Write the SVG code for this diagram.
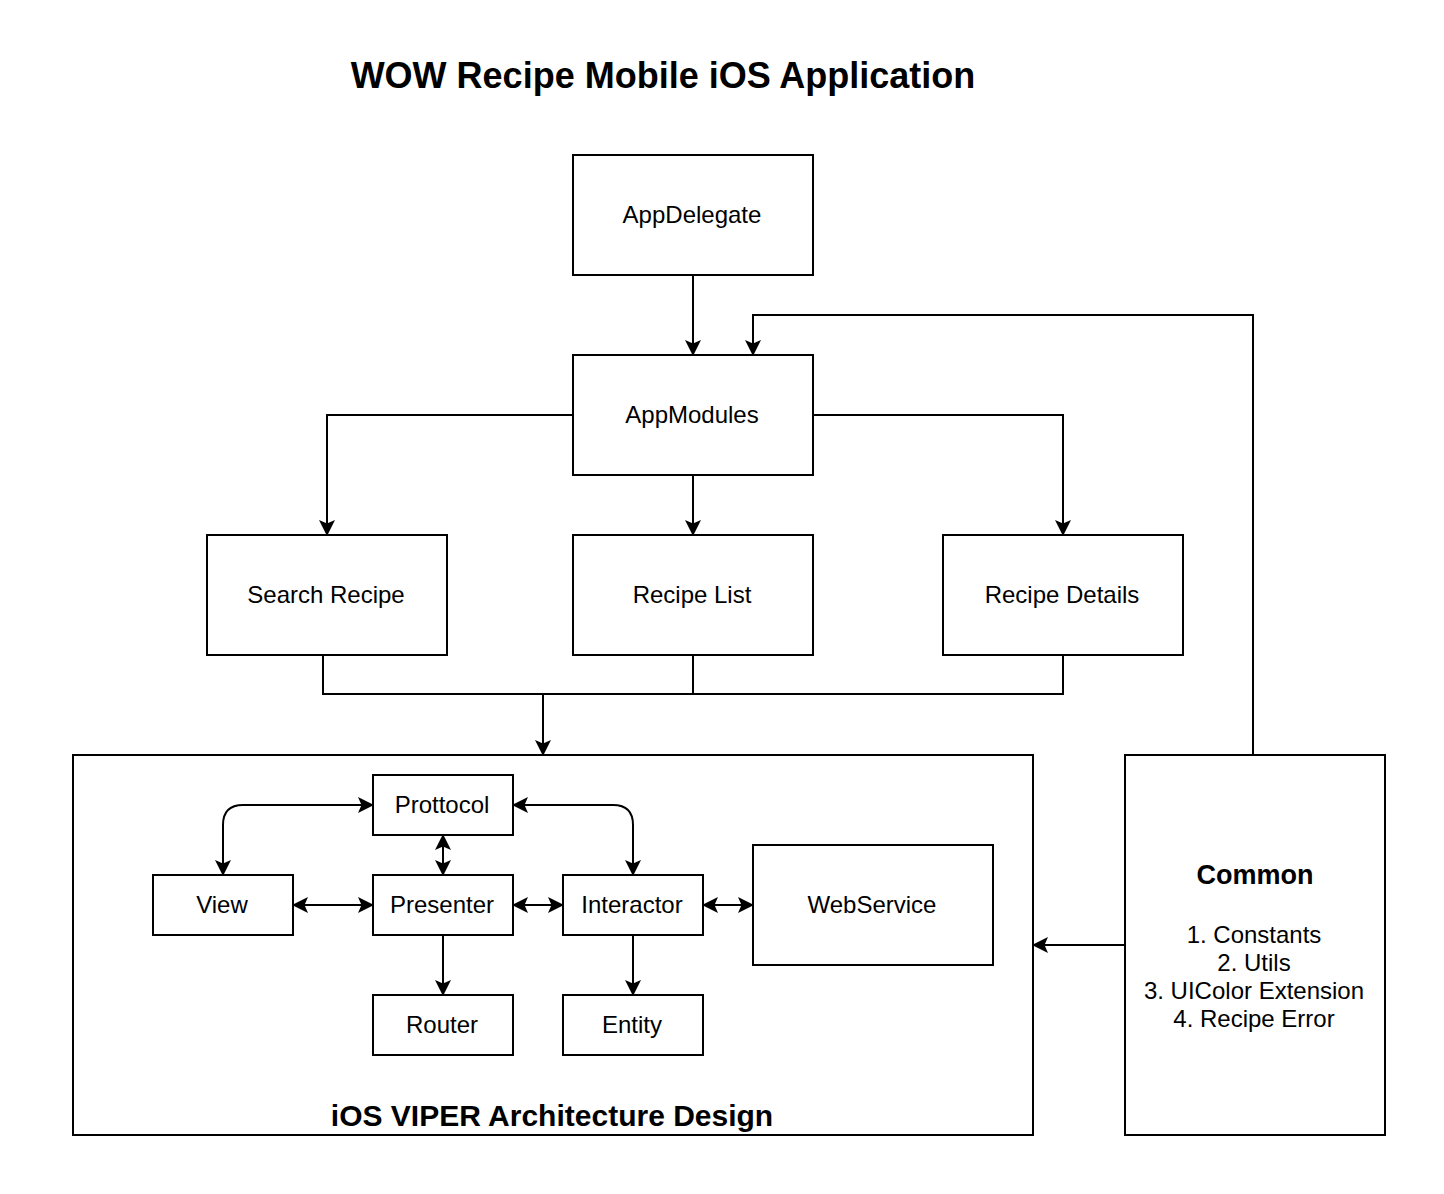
<svg xmlns="http://www.w3.org/2000/svg" width="1444" height="1194" viewBox="0 0 1444 1194">
<style>
.box{fill:#fff;stroke:#000;stroke-width:2}
.lbl{font-family:"Liberation Sans",Arial,Helvetica,sans-serif;font-size:24px;fill:#000;text-anchor:middle}
.b{font-weight:bold}
.ln{fill:none;stroke:#000;stroke-width:2}
.a{marker-end:url(#ah)}
.aa{marker-end:url(#ah);marker-start:url(#ah)}
</style>
<defs>
<marker id="ah" viewBox="0 0 16 16" refX="15" refY="8" markerWidth="16" markerHeight="16" markerUnits="userSpaceOnUse" orient="auto-start-reverse">
<path d="M0,0 L16,8 L0,16 L3.5,8 Z" fill="#000"/>
</marker>
</defs>
<rect width="1444" height="1194" fill="#fff"/>
<text class="lbl b" x="663" y="88" style="font-size:36px">WOW Recipe Mobile iOS Application</text>

<g id="viper">
<rect class="box" x="73" y="755" width="960" height="380"/>
<text class="lbl b" x="552" y="1126" style="font-size:30px">iOS VIPER Architecture Design</text>
</g>
<g id="common">
<rect class="box" x="1125" y="755" width="260" height="380"/>
<text class="lbl b" x="1255" y="884" style="font-size:27px">Common</text>
<text class="lbl" x="1254" y="943">1. Constants</text>
<text class="lbl" x="1254" y="971">2. Utils</text>
<text class="lbl" x="1254" y="999">3. UIColor Extension</text>
<text class="lbl" x="1254" y="1027">4. Recipe Error</text>
</g>
<g id="appdelegate"><rect class="box" x="573" y="155" width="240" height="120"/><text class="lbl" x="692" y="223">AppDelegate</text></g>
<g id="appmodules"><rect class="box" x="573" y="355" width="240" height="120"/><text class="lbl" x="692" y="423">AppModules</text></g>
<g id="search"><rect class="box" x="207" y="535" width="240" height="120"/><text class="lbl" x="326" y="603">Search Recipe</text></g>
<g id="list"><rect class="box" x="573" y="535" width="240" height="120"/><text class="lbl" x="692" y="603">Recipe List</text></g>
<g id="details"><rect class="box" x="943" y="535" width="240" height="120"/><text class="lbl" x="1062" y="603">Recipe Details</text></g>
<g id="prottocol"><rect class="box" x="373" y="775" width="140" height="60"/><text class="lbl" x="442" y="813">Prottocol</text></g>
<g id="view"><rect class="box" x="153" y="875" width="140" height="60"/><text class="lbl" x="222" y="913">View</text></g>
<g id="presenter"><rect class="box" x="373" y="875" width="140" height="60"/><text class="lbl" x="442" y="913">Presenter</text></g>
<g id="interactor"><rect class="box" x="563" y="875" width="140" height="60"/><text class="lbl" x="632" y="913">Interactor</text></g>
<g id="webservice"><rect class="box" x="753" y="845" width="240" height="120"/><text class="lbl" x="872" y="913">WebService</text></g>
<g id="router"><rect class="box" x="373" y="995" width="140" height="60"/><text class="lbl" x="442" y="1033">Router</text></g>
<g id="entity"><rect class="box" x="563" y="995" width="140" height="60"/><text class="lbl" x="632" y="1033">Entity</text></g>

<g id="connectors">
<path class="ln a" d="M693,275 L693,355"/>
<path class="ln a" d="M1253,755 L1253,315 L753,315 L753,355"/>
<path class="ln a" d="M573,415 L327,415 L327,535"/>
<path class="ln a" d="M813,415 L1063,415 L1063,535"/>
<path class="ln a" d="M693,475 L693,535"/>
<path class="ln" d="M323,655 L323,694 L1063,694 L1063,655"/>
<path class="ln" d="M693,655 L693,694"/>
<path class="ln a" d="M543,694 L543,755"/>
<path class="ln a" d="M1125,945 L1033,945"/>
<path class="ln aa" d="M223,875 L223,825 Q223,805 243,805 L373,805"/>
<path class="ln aa" d="M513,805 L613,805 Q633,805 633,825 L633,875"/>
<path class="ln aa" d="M443,835 L443,875"/>
<path class="ln aa" d="M293,905 L373,905"/>
<path class="ln aa" d="M513,905 L563,905"/>
<path class="ln aa" d="M703,905 L753,905"/>
<path class="ln a" d="M443,935 L443,995"/>
<path class="ln a" d="M633,935 L633,995"/>
</g>
</svg>
